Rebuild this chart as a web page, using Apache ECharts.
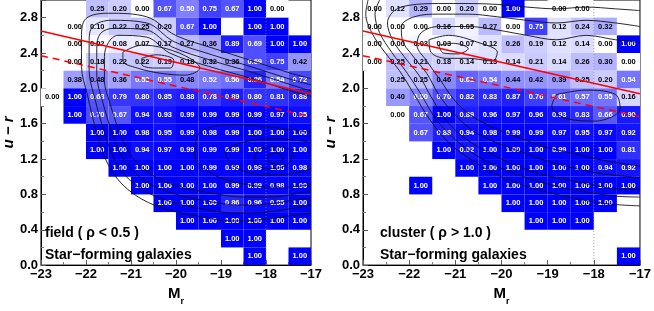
<!DOCTYPE html>
<html>
<head>
<meta charset="utf-8">
<script src="https://cdn.jsdelivr.net/npm/echarts@6/dist/echarts.min.js"></script>
<style>
html,body{margin:0;padding:0;background:#fff;}
#chart{width:654px;height:311px;}
</style>
</head>
<body>
<div id="chart"></div>
<script>
// ---- bins ----
const mrBins = [-22.75, -22.25, -21.75, -21.25, -20.75, -20.25, -19.75, -19.25, -18.75, -18.25, -17.75, -17.25];
const urBins = [2.9, 2.7, 2.5, 2.3, 2.1, 1.9, 1.7, 1.5, 1.3, 1.1, 0.9, 0.7, 0.5, 0.3, 0.1];
const binW = 0.5, binH = 0.2;
const xTicks = [-23, -22, -21, -20, -19, -18, -17];
const yTicks = [0.0, 0.4, 0.8, 1.2, 1.6, 2.0, 2.4, 2.8];

// ---- star-forming fractions, field (rho < 0.5) ----
const fieldFrac = [
  [null, null, 0.25, 0.20, 0.00, 0.67, 0.50, 0.75, 0.67, 1.00, 0.00, null],
  [null, 0.00, 0.10, 0.22, 0.25, 0.20, 0.67, 1.00, null, 1.00, 1.00, null],
  [null, 0.00, 0.02, 0.08, 0.07, 0.17, 0.27, 0.36, 0.89, 0.69, 1.00, 1.00],
  [null, 0.00, 0.18, 0.22, 0.22, 0.19, 0.18, 0.32, 0.36, 0.69, 0.75, 0.42],
  [null, 0.38, 0.48, 0.36, 0.53, 0.55, 0.48, 0.52, 0.56, 0.86, 0.54, 0.72],
  [0.00, 1.00, 0.68, 0.79, 0.80, 0.85, 0.88, 0.78, 0.89, 0.80, 0.81, 0.88],
  [null, 1.00, 0.70, 0.67, 0.94, 0.93, 0.99, 0.99, 0.99, 0.99, 0.97, 0.95],
  [null, null, 1.00, 1.00, 0.98, 0.95, 0.99, 0.98, 0.99, 1.00, 1.00, 1.00],
  [null, null, 1.00, 1.00, 0.94, 0.97, 0.99, 0.99, 0.99, 1.00, 1.00, 1.00],
  [null, null, null, 1.00, 1.00, 1.00, 1.00, 0.99, 0.99, 0.99, 1.00, 0.98],
  [null, null, null, null, 1.00, 1.00, 1.00, 1.00, 0.99, 0.99, 0.98, 1.00],
  [null, null, null, null, null, 1.00, 1.00, 1.00, 0.86, 0.96, 0.95, 1.00],
  [null, null, null, null, null, null, 1.00, 1.00, 1.00, 1.00, 1.00, 1.00],
  [null, null, null, null, null, null, null, null, 1.00, 1.00, null, null],
  [null, null, null, null, null, null, null, null, null, 1.00, null, 1.00]
];

// ---- star-forming fractions, cluster (rho > 1.0) ----
const clusterFrac = [
  [0.00, 0.12, 0.29, 0.00, 0.20, 0.00, 1.00, null, 0.00, 0.00, null, null],
  [0.00, 0.00, 0.00, 0.16, 0.05, 0.27, 0.00, 0.75, 0.12, 0.24, 0.32, null],
  [0.00, 0.00, 0.03, 0.03, 0.07, 0.12, 0.26, 0.19, 0.12, 0.14, 0.00, 1.00],
  [0.00, 0.25, 0.21, 0.18, 0.14, 0.13, 0.14, 0.21, 0.14, 0.26, 0.30, 0.00],
  [null, 0.25, 0.25, 0.46, 0.61, 0.54, 0.44, 0.42, 0.39, 0.25, 0.20, 0.54],
  [null, 0.40, 0.50, 0.70, 0.82, 0.83, 0.87, 0.76, 0.61, 0.57, 0.55, 0.16],
  [null, 0.00, 0.67, 1.00, 0.89, 0.96, 0.97, 0.96, 0.93, 0.83, 0.66, 0.90],
  [null, null, 0.67, 0.88, 0.94, 0.98, 0.99, 0.99, 0.97, 0.95, 0.97, 0.92],
  [null, null, null, 1.00, 0.92, 1.00, 1.00, 1.00, 0.99, 1.00, 1.00, 0.81],
  [null, null, null, null, 1.00, 1.00, 1.00, 1.00, 1.00, 1.00, 0.94, 0.92],
  [null, null, 1.00, null, null, 1.00, 1.00, 1.00, 1.00, 1.00, 1.00, 1.00],
  [null, null, null, null, null, null, 1.00, 1.00, 1.00, 1.00, 1.00, null],
  [null, null, null, null, null, null, null, 1.00, 1.00, 1.00, null, null],
  [null, null, null, null, null, null, null, null, null, null, null, null],
  [null, null, null, null, null, null, null, null, null, null, null, 1.00]
];

// ---- separation lines (Mr, u-r) ----
const sepLine = [[-23, 2.65], [-17, 1.94]];
const sepLineLow = [[-23, 2.37], [-17, 1.68]];
const mrLimit = -18;

// ---- density contours, field (estimated) ----
const fieldContours = [
  [[-17.00,2.11],[-17.44,2.17],[-18.30,2.31],[-19.15,2.45],[-20.01,2.60],[-20.65,2.81],[-21.50,2.85],[-22.00,2.79],[-22.10,2.58],[-22.10,2.25],[-21.97,1.93],[-21.76,1.50],[-21.50,1.13],[-21.08,0.86],[-20.44,0.67],[-19.58,0.56],[-18.73,0.50],[-17.98,0.52],[-17.44,0.56],[-17.00,0.59]],
  [[-17.00,2.04],[-17.44,2.10],[-18.30,2.24],[-19.20,2.38],[-20.05,2.53],[-20.65,2.74],[-21.44,2.77],[-21.85,2.70],[-21.93,2.52],[-21.93,2.20],[-21.80,1.88],[-21.59,1.50],[-21.33,1.16],[-20.91,0.91],[-20.31,0.75],[-19.47,0.64],[-18.66,0.59],[-17.98,0.60],[-17.44,0.64],[-17.00,0.68]],
  [[-17.00,1.97],[-17.44,2.04],[-18.30,2.18],[-19.24,2.32],[-20.09,2.47],[-20.65,2.66],[-21.38,2.68],[-21.68,2.62],[-21.76,2.45],[-21.76,2.15],[-21.63,1.85],[-21.42,1.50],[-21.16,1.20],[-20.74,0.97],[-20.18,0.83],[-19.37,0.73],[-18.60,0.68],[-17.98,0.69],[-17.44,0.73],[-17.00,0.76]],
  [[-17.00,1.91],[-17.44,1.97],[-18.30,2.11],[-19.28,2.25],[-20.14,2.40],[-20.65,2.58],[-21.29,2.60],[-21.50,2.52],[-21.59,2.36],[-21.59,2.09],[-21.46,1.82],[-21.25,1.50],[-20.99,1.23],[-20.56,1.03],[-20.01,0.90],[-19.26,0.82],[-18.51,0.77],[-17.91,0.77],[-17.40,0.80],[-17.00,0.84]],
  [[-21.18,2.41],[-20.76,2.49],[-20.22,2.45],[-19.69,2.34],[-19.47,2.23],[-19.79,2.15],[-20.33,2.17],[-20.86,2.23],[-21.18,2.31],[-21.18,2.41]],
  [[-20.76,2.34],[-20.44,2.38],[-20.05,2.32],[-20.12,2.23],[-20.48,2.23],[-20.76,2.27],[-20.76,2.34]],
  [[-17.00,1.50],[-17.87,1.56],[-18.73,1.59],[-19.47,1.50],[-19.58,1.23],[-19.15,1.02],[-18.41,0.91],[-17.66,0.88],[-17.00,0.91]],
  [[-17.00,1.39],[-17.76,1.43],[-18.51,1.39],[-18.90,1.27],[-18.62,1.09],[-17.98,1.02],[-17.34,1.04],[-17.00,1.09]],
  [[-18.19,1.31],[-17.76,1.34],[-17.40,1.27],[-17.55,1.13],[-17.98,1.09],[-18.26,1.18],[-18.19,1.31]],
  [[-17.96,1.24],[-17.76,1.27],[-17.62,1.20],[-17.76,1.15],[-17.94,1.17],[-17.96,1.24]]
];

// ---- density contours, cluster (estimated) ----
const clusterContours = [
  [[-22.89,3.00],[-22.94,2.84],[-22.81,2.63],[-22.53,2.41],[-22.21,2.20],[-21.89,1.93],[-21.57,1.66],[-21.15,1.39],[-20.62,1.18],[-20.09,1.02],[-19.45,0.89],[-18.81,0.80],[-18.17,0.73],[-17.64,0.69],[-17.00,0.67]],
  [[-22.64,3.00],[-22.74,2.84],[-22.64,2.63],[-22.38,2.41],[-22.04,2.17],[-21.74,1.93],[-21.43,1.66],[-21.00,1.42],[-20.51,1.23],[-19.98,1.09],[-19.34,0.97],[-18.70,0.88],[-18.06,0.82],[-17.53,0.78],[-17.00,0.77]],
  [[-17.00,2.88],[-17.53,2.90],[-18.17,2.92],[-18.81,2.90],[-19.45,2.92],[-20.09,2.95],[-20.72,2.96],[-21.36,2.96],[-22.00,2.94],[-22.32,2.88],[-22.47,2.74],[-22.36,2.55],[-22.11,2.36],[-21.79,2.15],[-21.53,1.91],[-21.23,1.66],[-20.83,1.45],[-20.34,1.29],[-19.83,1.16],[-19.23,1.04],[-18.60,0.97],[-17.96,0.90],[-17.43,0.86],[-17.00,0.86]],
  [[-17.00,2.70],[-17.53,2.74],[-18.17,2.77],[-18.81,2.74],[-19.45,2.77],[-20.09,2.81],[-20.72,2.84],[-21.36,2.84],[-21.89,2.81],[-22.17,2.70],[-22.15,2.55],[-21.94,2.38],[-21.62,2.17],[-21.36,1.93],[-21.04,1.72],[-20.62,1.52],[-20.13,1.39],[-19.62,1.29],[-19.02,1.18],[-18.38,1.09],[-17.74,1.03],[-17.00,0.99]],
  [[-17.00,2.52],[-17.53,2.55],[-18.17,2.60],[-18.81,2.55],[-19.45,2.60],[-20.09,2.66],[-20.72,2.70],[-21.36,2.70],[-21.74,2.63],[-21.83,2.49],[-21.62,2.31],[-21.32,2.09],[-21.04,1.88],[-20.68,1.70],[-20.19,1.56],[-19.66,1.45],[-19.06,1.34],[-18.43,1.26],[-17.74,1.18],[-17.00,1.12]],
  [[-21.57,2.55],[-21.15,2.60],[-20.51,2.52],[-20.09,2.41],[-20.19,2.31],[-20.72,2.34],[-21.19,2.34],[-21.53,2.41],[-21.57,2.55]],
  [[-21.36,2.49],[-21.04,2.51],[-20.72,2.45],[-20.94,2.39],[-21.26,2.40],[-21.36,2.49]],
  [[-18.81,1.93],[-18.17,1.98],[-17.53,1.93],[-17.43,1.77],[-17.96,1.63],[-18.60,1.66],[-18.91,1.80],[-18.81,1.93]]
];

// ---- build ----
function cells(frac) {
  const out = [];
  frac.forEach((row, i) => row.forEach((v, j) => { if (v !== null) out.push([mrBins[j], urBins[i], v]); }));
  return out;
}
function renderCell(params, api) {
  const x = api.value(0), y = api.value(1), f = api.value(2);
  const p0 = api.coord([x - binW / 2, y + binH / 2]);
  const p1 = api.coord([x + binW / 2, y - binH / 2]);
  const c = Math.round(255 * (1 - f));
  return {
    type: 'group',
    children: [
      { type: 'rect', shape: { x: p0[0], y: p0[1], width: p1[0] - p0[0], height: p1[1] - p0[1] },
        style: { fill: 'rgb(' + c + ',' + c + ',255)' } },
      { type: 'text', z2: 5, style: { text: f.toFixed(2), x: (p0[0] + p1[0]) / 2, y: (p0[1] + p1[1]) / 2,
        align: 'center', verticalAlign: 'middle', fill: f >= 0.5 ? '#fff' : '#000',
        font: 'bold 7.5px "Liberation Sans", Arial, sans-serif' } }
    ]
  };
}
const FONT = '"Liberation Sans", Arial, Helvetica, sans-serif';
function xAx(gi) {
  return {
    type: 'value', gridIndex: gi, min: xTicks[0], max: xTicks[xTicks.length - 1], interval: 1,
    name: '{m|M}{s|r}', nameLocation: 'middle', nameGap: 17,
    nameTextStyle: { rich: {
      m: { fontFamily: FONT, fontWeight: 'bold', fontSize: 15, lineHeight: 18, verticalAlign: 'top', color: '#000' },
      s: { fontFamily: FONT, fontWeight: 'bold', fontSize: 9, lineHeight: 9, padding: [11, 0, 0, 0], verticalAlign: 'top', color: '#000' } } },
    axisLine: { show: true, onZero: false, lineStyle: { color: '#000', width: 1 } },
    axisTick: { show: true, inside: true, length: 5, lineStyle: { color: '#555' } },
    minorTick: { show: true, splitNumber: 2, length: 3, lineStyle: { color: '#777' } },
    splitLine: { show: false }, minorSplitLine: { show: false },
    axisLabel: { margin: 3, fontFamily: FONT, fontWeight: 'bold', fontSize: 13, color: '#000',
      formatter: v => (v < 0 ? '\u2212' : '') + Math.abs(v) }
  };
}
function yAx(gi) {
  return {
    type: 'value', gridIndex: gi, min: yTicks[0], max: 3.0, interval: 0.4,
    name: 'u \u2212 r', nameLocation: 'middle', nameGap: 23,
    nameTextStyle: { fontFamily: FONT, fontWeight: 'bold', fontStyle: 'italic', fontSize: 15, color: '#000' },
    axisLine: { show: true, onZero: false, lineStyle: { color: '#000', width: 1 } },
    axisTick: { show: true, inside: true, length: 5, lineStyle: { color: '#555' } },
    minorTick: { show: true, splitNumber: 2, length: 3, lineStyle: { color: '#777' } },
    splitLine: { show: false }, minorSplitLine: { show: false },
    axisLabel: { margin: 3, fontFamily: FONT, fontWeight: 'bold', fontSize: 13, color: '#000', showMaxLabel: false,
      formatter: v => v.toFixed(1) }
  };
}
function contourSeries(list, gi) {
  return list.map(pts => ({
    type: 'line', xAxisIndex: gi, yAxisIndex: gi, data: pts, showSymbol: false, symbol: 'none',
    smooth: 0.35, silent: true, z: 10, clip: true,
    lineStyle: { color: '#111', width: 0.9 }
  }));
}
function panelSeries(frac, contours, gi) {
  return [
    { type: 'custom', xAxisIndex: gi, yAxisIndex: gi, data: cells(frac), renderItem: renderCell, z: 1, silent: true },
    { type: 'line', xAxisIndex: gi, yAxisIndex: gi, data: [[mrLimit, 0], [mrLimit, 3]], showSymbol: false, symbol: 'none', z: 9,
      lineStyle: { color: '#888', width: 0.8, type: [1, 2] }, silent: true },
    ...contourSeries(contours, gi),
    { type: 'line', xAxisIndex: gi, yAxisIndex: gi, data: sepLine, showSymbol: false, symbol: 'none', z: 11,
      lineStyle: { color: '#ff0000', width: 1.5 }, silent: true },
    { type: 'line', xAxisIndex: gi, yAxisIndex: gi, data: sepLineLow, showSymbol: false, symbol: 'none', z: 11,
      lineStyle: { color: '#ff0000', width: 1.5, type: [7, 5] }, silent: true }
  ];
}

const chart = echarts.init(document.getElementById('chart'), null, { renderer: 'canvas' });
chart.setOption({
  animation: false,
  backgroundColor: '#fff',
  grid: [
    { left: 30, top: 0, width: 281, height: 280, show: true, borderColor: '#000', borderWidth: 1, backgroundColor: 'transparent' },
    { left: 363, top: 0, width: 281, height: 280, show: true, borderColor: '#000', borderWidth: 1, backgroundColor: 'transparent' }
  ],
  xAxis: [xAx(0), xAx(1)],
  yAxis: [yAx(0), yAx(1)],
  graphic: [
    { type: 'text', left: 45, top: 226, z: 100, style: { text: 'field ( \u03c1 < 0.5 )', font: 'bold 14px ' + FONT, fill: '#000' } },
    { type: 'text', left: 45, top: 248, z: 100, style: { text: 'Star\u2212forming galaxies', font: 'bold 14px ' + FONT, fill: '#000' } },
    { type: 'text', left: 380, top: 226, z: 100, style: { text: 'cluster ( \u03c1 > 1.0 )', font: 'bold 14px ' + FONT, fill: '#000' } },
    { type: 'text', left: 380, top: 248, z: 100, style: { text: 'Star\u2212forming galaxies', font: 'bold 14px ' + FONT, fill: '#000' } }
  ],
  series: [...panelSeries(fieldFrac, fieldContours, 0), ...panelSeries(clusterFrac, clusterContours, 1)]
});
</script>
</body>
</html>
